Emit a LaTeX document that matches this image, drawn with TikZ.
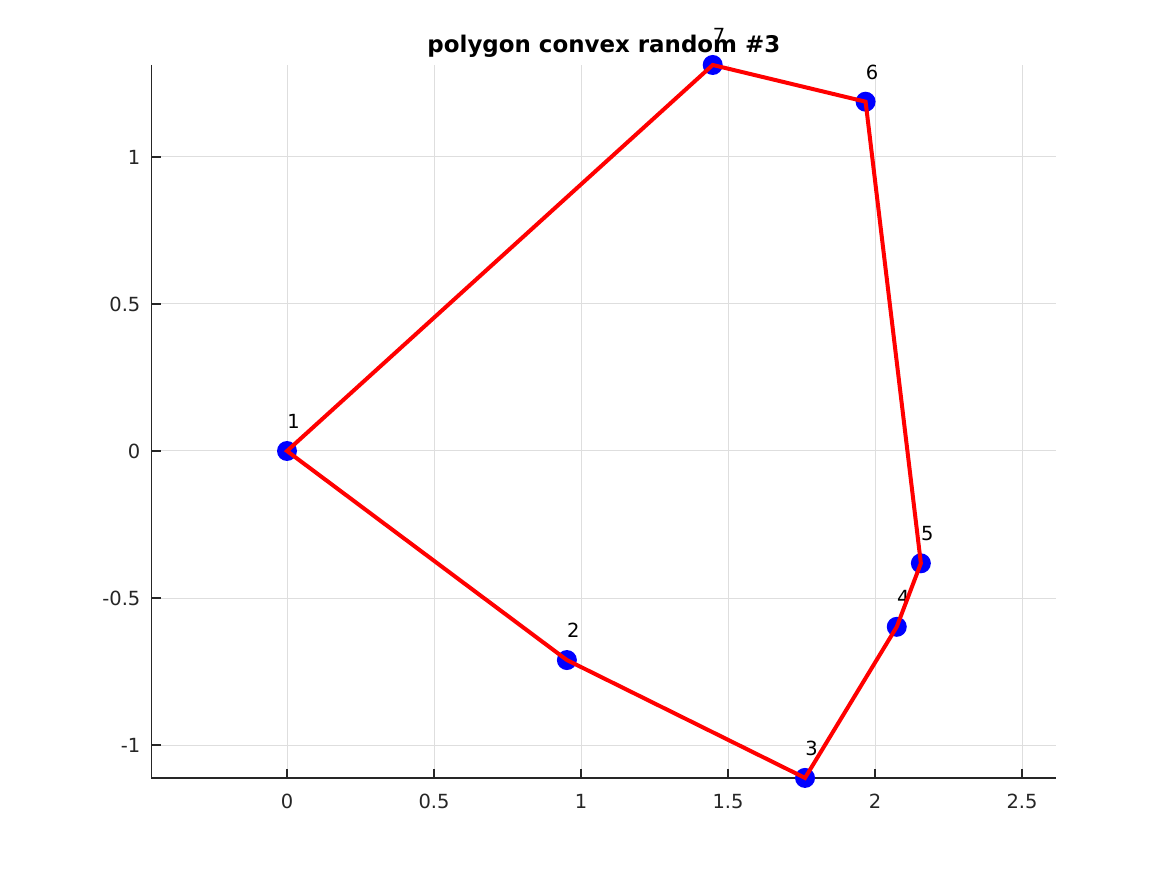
\documentclass[tikz,border=0pt]{standalone}
\usepackage{fontspec}
\setmainfont{DejaVu Sans}
\tikzset{
  gridline/.style={color=gridgray, line width=0.75pt},
  axisline/.style={color=axgray, line width=0.9pt},
  ticklabel/.style={color=axgray, inner sep=0pt, font=\fontsize{14.6}{17}\selectfont},
  vertexlabel/.style={color=black, inner sep=0pt, anchor=west, font=\fontsize{14.6}{17}\selectfont},
  marker/.style={fill=markblue, draw=none},
  edge/.style={color=edgered, line width=3pt, line join=miter}
}
\definecolor{axgray}{HTML}{262626}
\definecolor{gridgray}{HTML}{DEDEDE}
\definecolor{markblue}{HTML}{0000FF}
\definecolor{edgered}{HTML}{FF0000}

\begin{document}
\begin{tikzpicture}[x=220.5pt, y=220.5pt]

  \newcommand\AxL{-0.4604}
  \newcommand\AxR{2.6160}
  \newcommand\AxB{-1.1120}
  \newcommand\AxT{1.3130}

  \useasboundingbox[fill=white](-0.97619,-1.44218) rectangle (2.99320,1.53401);

  % grid
  \foreach \gx in {0,0.5,1,1.5,2,2.5}
    \draw[gridline](\gx,\AxB)--(\gx,\AxT);
  \foreach \gy in {-1,-0.5,0,0.5,1}
    \draw[gridline](\AxL,\gy)--(\AxR,\gy);

  % axes
  \draw[axisline](\AxL,\AxT)--(\AxL,\AxB)--(\AxR,\AxB);
  \foreach \gx in {0,0.5,1,1.5,2,2.5}{
    \draw[axisline](\gx,\AxB)--+(0,6.75pt);
    \node[ticklabel, yshift=-17.6pt] (xt\gx) at (\gx,\AxB) {\gx};
  }
  \foreach \gy/\name in {-1/m1,-0.5/m05,0/z,0.5/p05,1/p1}{
    \draw[axisline](\AxL,\gy)--+(6.75pt,0);
    \node[ticklabel, anchor=east, xshift=-8.25pt] (yt\name) at (\AxL,\gy) {\gy};
  }

  \node[font=\fontsize{17.2}{20}\selectfont\bfseries, inner sep=0pt] (title)
    at ({(\AxL+\AxR)/2}, 1.3776) {polygon convex random \#3};

  % vertices
  \coordinate (p1) at (0,0);
  \coordinate (p2) at (0.952,-0.711);
  \coordinate (p3) at (1.762,-1.112);
  \coordinate (p4) at (2.074,-0.598);
  \coordinate (p5) at (2.156,-0.382);
  \coordinate (p6) at (1.968,1.188);
  \coordinate (p7) at (1.448,1.313);

  \foreach \i in {1,...,7}{
    \fill[marker](p\i) circle (7.5pt);
    \node[vertexlabel] (l\i) at ([yshift=22pt]p\i) {\i};
  }

  \draw[edge](p1)--(p2)--(p3)--(p4)--(p5)--(p6)--(p7)--cycle;

\end{tikzpicture}
\end{document}
